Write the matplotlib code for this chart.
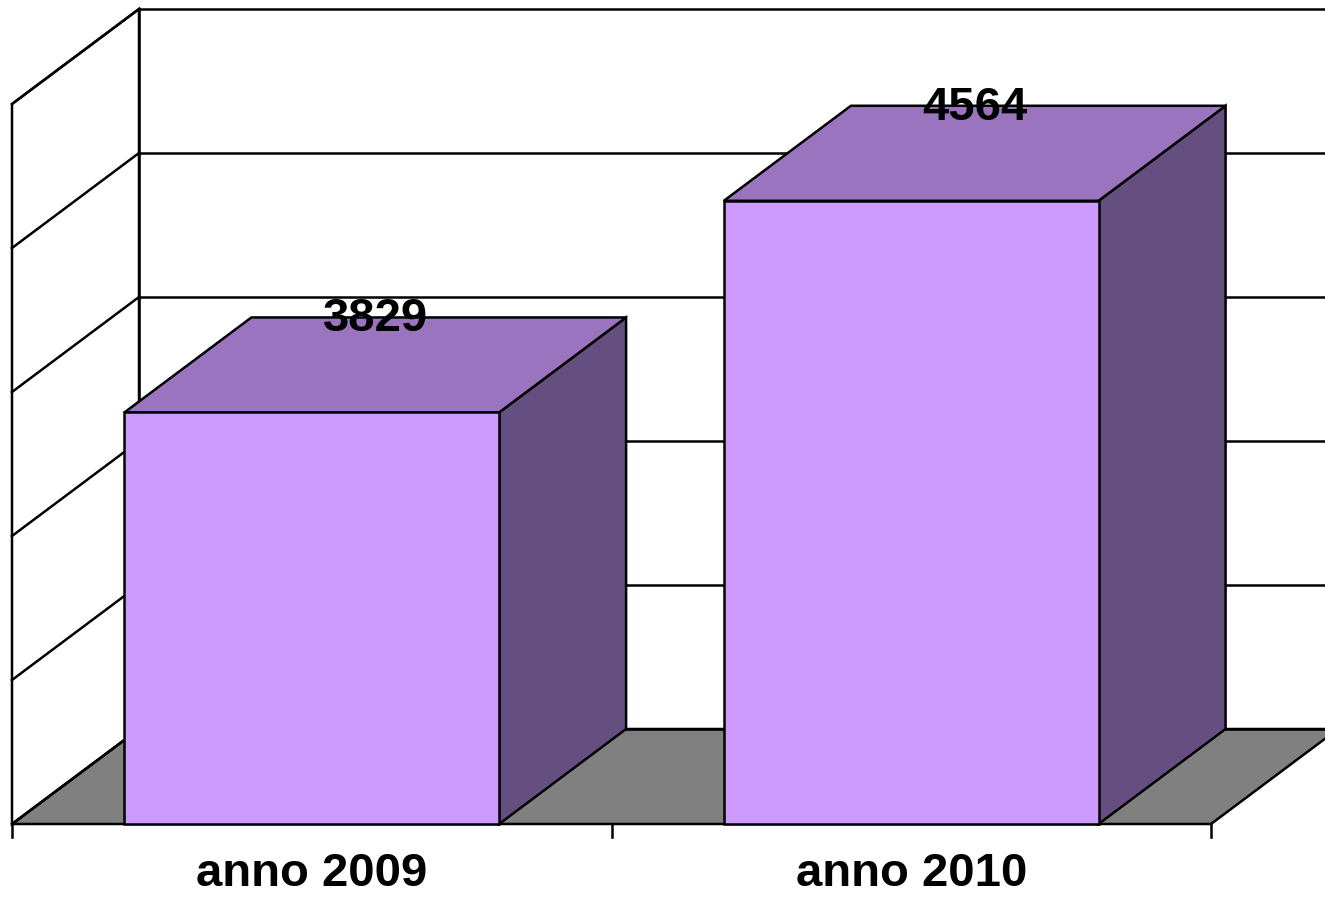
import matplotlib
matplotlib.use("Agg")
import matplotlib.pyplot as plt
from matplotlib.patches import Polygon

# data
categories = ["anno 2009", "anno 2010"]
values = [3829, 4564]

# value axis (Excel auto scale, no tick labels shown)
y_min, y_max, y_step = 2400, 4900, 500

FRONT = "#CC99FF"
TOP = "#9A74BE"
SIDE = "#654E80"
FLOOR = "#808080"
LW = 1.8

plt.rcParams["font.family"] = ["Liberation Sans", "DejaVu Sans"]

fig = plt.figure(figsize=(13.25, 8.97), dpi=100)
ax = fig.add_axes([0, 0, 1, 1])
ax.axis("off")

# front plane: categories 0..2 -> 12..1211 px, values y_min..y_max -> 824..104 px
px_x = 1199 / 2.0
px_y = 720 / (y_max - y_min)
ax.set_xlim(-12 / px_x, (1325 - 12) / px_x)
ax.set_ylim(y_min - (897 - 824) / px_y, y_max + 104 / px_y)

# depth offset of the 3d box
dx = 127 / px_x
dy = 95 / px_y
n = len(categories)

# floor
ax.add_patch(Polygon([(0, y_min), (n, y_min), (n + dx, y_min + dy), (dx, y_min + dy)],
                     closed=True, facecolor=FLOOR, edgecolor="black", lw=LW, zorder=1))
# left wall
ax.add_patch(Polygon([(0, y_min), (0, y_max), (dx, y_max + dy), (dx, y_min + dy)],
                     closed=True, facecolor="white", edgecolor="black", lw=LW, zorder=1))

# gridlines on left and back wall
for level in range(y_min, y_max + 1, y_step):
    ax.plot([0, dx], [level, level + dy], color="black", lw=LW, zorder=2)
    ax.plot([dx, n + dx], [level + dy, level + dy], color="black", lw=LW, zorder=2)
ax.plot([dx, dx], [y_min + dy, y_max + dy], color="black", lw=LW, zorder=2)

# category ticks below the floor
tick_len = 13 / px_y
for k in range(n + 1):
    ax.plot([k, k], [y_min, y_min - tick_len], color="black", lw=LW, zorder=2)

# bars
width = 1 / 1.6  # gap width 60%
for i, (cat, val) in enumerate(zip(categories, values)):
    x0 = i + 0.5 - width / 2
    x1 = i + 0.5 + width / 2
    ax.add_patch(Polygon([(x1, y_min), (x1 + dx, y_min + dy), (x1 + dx, val + dy), (x1, val)],
                         closed=True, facecolor=SIDE, edgecolor="black", lw=LW, zorder=3))
    ax.add_patch(Polygon([(x0, val), (x1, val), (x1 + dx, val + dy), (x0 + dx, val + dy)],
                         closed=True, facecolor=TOP, edgecolor="black", lw=LW, zorder=3))
    ax.add_patch(Polygon([(x0, y_min), (x1, y_min), (x1, val), (x0, val)],
                         closed=True, facecolor=FRONT, edgecolor="black", lw=LW, zorder=4))
    ax.text(i + 0.5 + dx / 2, val + dy - 2 / px_y, str(val), ha="center", va="center",
            fontsize=34, fontweight="bold", zorder=5)
    ax.text(i + 0.5, y_min - 50 / px_y, cat, ha="center", va="center",
            fontsize=34, fontweight="bold", zorder=5)

fig.savefig("out.png", dpi=100)
